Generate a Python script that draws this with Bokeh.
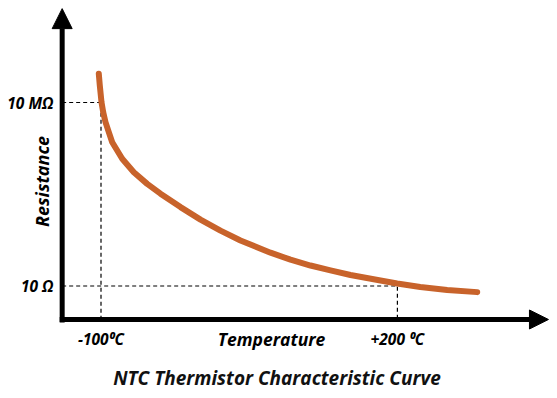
from math import pi
from bokeh.plotting import figure
from bokeh.models import Range1d, Arrow, NormalHead, ColumnDataSource
from bokeh.core.properties import value
from bokeh.embed import file_html
from bokeh.resources import INLINE

# ---- data (temperature in degC, resistance as log10(ohm)) ----
temperature = [-102.23, -101.21, -99.49, -97.77, -95.45, -92.11, -88.66, -78.54, -66.80,
               -53.24, -39.78, -19.53, 0.71, 20.95, 41.19, 71.56, 91.80, 112.04,
               132.29, 152.53, 182.89, 199.80, 223.18, 250.40, 280.77]
log_resistance = [7.94, 7.56, 7.01, 6.68, 6.36, 6.03, 5.70, 5.16, 4.72,
                  4.34, 4.02, 3.58, 3.17, 2.81, 2.49, 2.09, 1.86, 1.67,
                  1.51, 1.36, 1.18, 1.08, 0.97, 0.87, 0.80]

x_ticks = [-100, 200]
x_tick_labels = ["-100\u2070C", "+200 \u2070C"]
y_ticks = [7, 1]
y_tick_labels = ["10 M\u03a9", "10 \u03a9"]

x_title = "Temperature"
y_title = "Resistance"
chart_title = "NTC Thermistor Characteristic Curve"

# ---- layout constants (data coordinates) ----
AX_X = -139.3    # position of the vertical axis
AX_Y = -0.095    # position of the horizontal axis
X_END = 352.9
Y_END = 10.07
FONT = value("Open Sans")

p = figure(width=549, height=390, output_backend="svg", toolbar_location=None,
           x_range=Range1d(-201.72, 353.95), y_range=Range1d(-2.417, 10.336),
           x_axis_location=None, y_axis_location=None, min_border=0)
p.grid.visible = False
p.outline_line_color = None
p.background_fill_color = "white"

# dashed guide lines
for xt, yt in zip(x_ticks, y_ticks):
    p.line([AX_X, xt, xt], [yt, yt, AX_Y], line_color="black", line_width=1.2,
           line_dash="4 3")

# curve
p.line(temperature, log_resistance, line_color="#C8632B", line_width=6,
       line_cap="round", line_join="round")

# axes with arrows
p.add_layout(Arrow(x_start=AX_X, y_start=AX_Y - 0.1, x_end=AX_X, y_end=Y_END,
                   line_width=5, line_color="black",
                   end=NormalHead(size=20, fill_color="black", line_color="black", line_width=1)))
p.add_layout(Arrow(x_start=AX_X - 2.5, y_start=AX_Y, x_end=X_END, y_end=AX_Y,
                   line_width=5, line_color="black",
                   end=NormalHead(size=19, fill_color="black", line_color="black", line_width=1)))

# tick labels
xs = ColumnDataSource(dict(x=x_ticks, y=[-0.72] * len(x_ticks), t=x_tick_labels))
p.text("x", "y", text="t", source=xs, text_align="center", text_baseline="middle",
       text_font=FONT, text_font_style="bold italic", text_font_size="15.5px", text_color="black")
ys = ColumnDataSource(dict(x=[-148.1] * len(y_ticks), y=y_ticks, t=y_tick_labels))
p.text("x", "y", text="t", source=ys, text_align="right", text_baseline="middle",
       text_font=FONT, text_font_style="bold italic", text_font_size="15.5px", text_color="black")

# axis titles
p.text(x=[72.6], y=[-0.72], text=[x_title], text_align="center", text_baseline="middle",
       text_font=FONT, text_font_style="bold italic", text_font_size="17.5px", text_color="black")
p.text(x=[-160.2], y=[4.42], text=[y_title], angle=pi / 2, text_align="center",
       text_baseline="middle", text_font=FONT, text_font_style="bold italic",
       text_font_size="18px", text_color="black")

# chart title
p.text(x=[78.1], y=[-2.02], text=[chart_title], text_align="center", text_baseline="middle",
       text_font=FONT, text_font_style="bold italic", text_font_size="19px", text_color="#111111")

open("out.html", "w").write(file_html(p, INLINE))
